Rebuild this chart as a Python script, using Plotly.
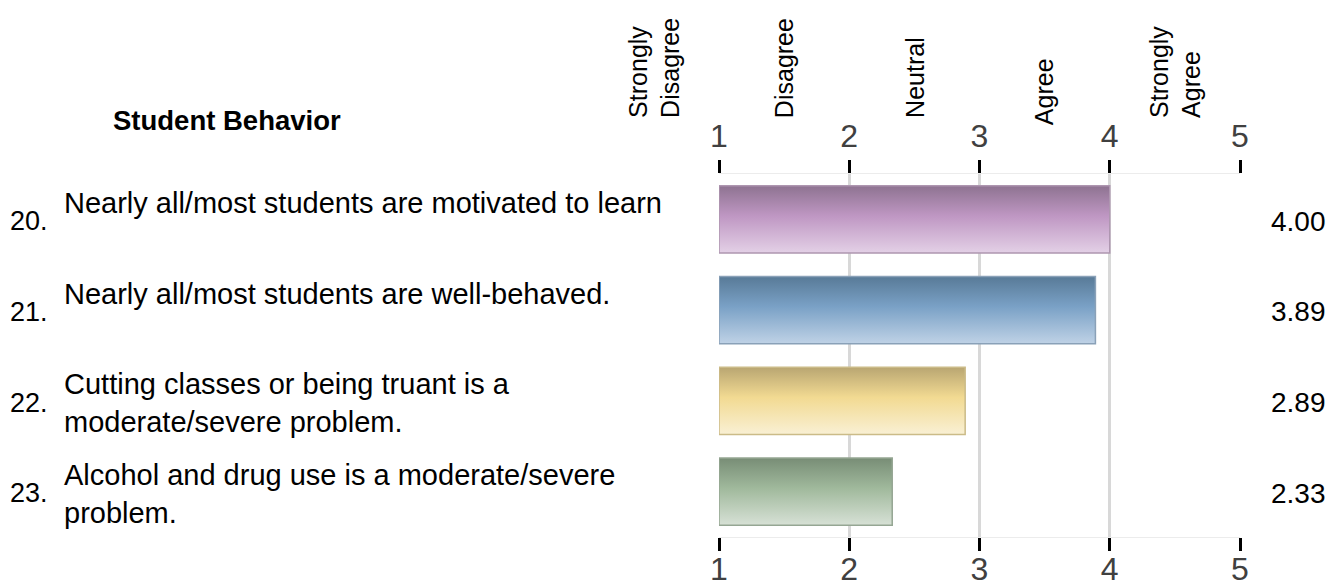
import plotly.graph_objects as go

# ---- data ----
item_numbers = ["20.", "21.", "22.", "23."]
item_texts = [
    "Nearly all/most students are motivated to learn",
    "Nearly all/most students are well-behaved.",
    "Cutting classes or being truant is a<br>moderate/severe problem.",
    "Alcohol and drug use is a moderate/severe<br>problem.",
]
mean_scores = [4.00, 3.89, 2.89, 2.33]
scale_ticks = [1, 2, 3, 4, 5]
scale_labels = ["Strongly<br>Disagree", "Disagree", "Neutral", "Agree", "Strongly<br>Agree"]
scale_label_pos = [0.5, 1.5, 2.5, 3.5, 4.5]
section_title = "Student Behavior"

# gradient colours (top, middle, bottom) and borders
grad_top = ["#8e7391", "#587a97", "#b9a672", "#788d76"]
grad_mid = ["#bf97c3", "#7aa1c6", "#f2da92", "#a0b99c"]
grad_bot = ["#e3d0e6", "#bfd2e6", "#f9f0d4", "#d7e1d6"]
border_col = ["#ae96b0", "#8aa1b8", "#cbbb88", "#95a693"]

FONT = "Arial, Liberation Sans, Helvetica, sans-serif"
OFF = 8                      # page offset of the figure (body margin)
W, H = 1339 - OFF, 587 - OFF
L, R, T, B = 711, 99, 166, 50
PW, PH = W - L - R, H - T - B
XMIN, XMAX = 1, 5
BAR_W = 0.74


def px_x(page_px):
    return (page_px - OFF - L) / PW


def px_y(page_py):
    return (H - B - (page_py - OFF)) / PH


def val_x(v):
    return (v - XMIN) / (XMAX - XMIN)


fig = go.Figure()

for i, v in enumerate(mean_scores):
    y0, y1 = i - BAR_W / 2, i + BAR_W / 2
    fig.add_trace(go.Scatter(
        x=[XMIN, v, v, XMIN, XMIN],
        y=[y0, y0, y1, y1, y0],
        mode="lines",
        fill="toself",
        fillgradient=dict(
            type="vertical",
            start=y0,
            stop=y1,
            colorscale=[[0, grad_top[i]], [0.45, grad_mid[i]], [1, grad_bot[i]]],
        ),
        line=dict(color=border_col[i], width=1.5),
        hoverinfo="skip",
        showlegend=False,
    ))

# invisible trace to activate the bottom axis
fig.add_trace(go.Scatter(x=[XMIN, XMAX], y=[0, 0], xaxis="x2", mode="markers",
                         marker=dict(opacity=0), hoverinfo="skip", showlegend=False))

axis_common = dict(
    range=[XMIN, XMAX],
    tickvals=scale_ticks,
    ticktext=[str(t) for t in scale_ticks],
    ticks="outside",
    ticklen=13,
    tickwidth=3,
    tickcolor="#000000",
    tickfont=dict(family=FONT, size=32, color="#404040"),
    showline=True,
    linecolor="#ececec",
    linewidth=1,
    zeroline=False,
    fixedrange=True,
    automargin=False,
)

fig.update_layout(
    width=W, height=H,
    autosize=False,
    margin=dict(l=L, r=R, t=T, b=B, pad=0, autoexpand=False),
    paper_bgcolor="white",
    plot_bgcolor="white",
    showlegend=False,
    xaxis=dict(side="top", showgrid=True, gridcolor="#d8d8d8", gridwidth=2.5, **axis_common),
    xaxis2=dict(side="bottom", overlaying="x", showgrid=False, ticklabelstandoff=-9,
                **axis_common),
    yaxis=dict(range=[len(mean_scores) - 0.5, -0.5], visible=False, showgrid=False,
               zeroline=False, fixedrange=True, automargin=False),
)

ann = []
# section title
ann.append(dict(text="<b>" + section_title + "</b>", xref="paper", yref="paper",
                x=px_x(227), y=px_y(121), xanchor="center", yanchor="middle",
                showarrow=False, font=dict(family=FONT, size=27.5, color="#000000")))

# item numbers & texts, value labels
for i, (num, txt, v) in enumerate(zip(item_numbers, item_texts, mean_scores)):
    ann.append(dict(text=num, xref="paper", yref="y", x=px_x(OFF), y=i + 0.02,
                    xanchor="left", yanchor="middle", showarrow=False,
                    font=dict(family=FONT, size=27, color="#000000")))
    ann.append(dict(text=txt, xref="paper", yref="y", x=px_x(62), y=i - 0.38,
                    xanchor="left", yanchor="top", align="left", showarrow=False,
                    font=dict(family=FONT, size=29, color="#000000")))
    ann.append(dict(text=f"{v:.2f}", xref="paper", yref="y", x=px_x(1298), y=i + 0.02,
                    xanchor="center", yanchor="middle", showarrow=False,
                    font=dict(family=FONT, size=28, color="#000000")))

# rotated scale labels
for lab, pos in zip(scale_labels, scale_label_pos):
    bottom_px = 127 if lab == "Agree" else 120
    ann.append(dict(text=lab, xref="paper", yref="paper", x=val_x(pos), y=px_y(bottom_px),
                    xanchor="center", yanchor="bottom", textangle=-90, align="left",
                    showarrow=False, font=dict(family=FONT, size=25, color="#000000")))

fig.update_layout(annotations=ann)

fig.write_html("out.html")
